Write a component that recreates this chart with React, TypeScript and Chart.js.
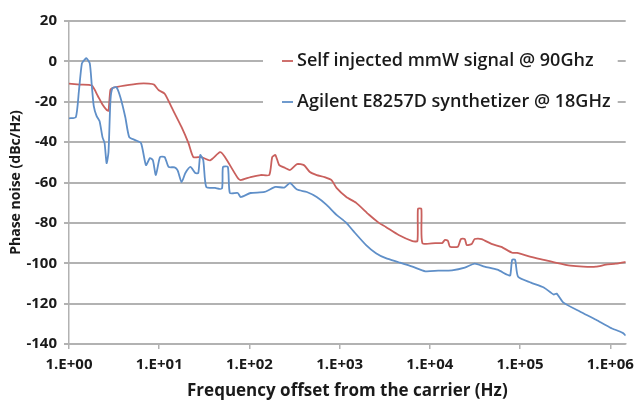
import React, { useEffect, useRef } from 'react';
import { Chart, registerables } from 'chart.js';

Chart.register(...registerables);

// Self injected mmW signal @ 90Ghz
const redFreq = [
  1.0, 1.32, 1.79, 2.08, 2.36, 2.61, 2.74, 2.88, 3.11, 4.1, 5.98, 7.69, 8.73, 9.9, 11.5, 13.7, 17.7, 21.1,
  23.9, 29.3, 36.7, 47.2, 53.5, 74.3, 80.1, 103, 133, 166, 179, 194, 214, 249, 282, 337, 402, 468, 557, 682,
  813, 923, 1186, 1527, 2119, 2725, 3250, 4510, 6415, 7280, 7380, 8050, 8260, 11460, 13670, 14740, 15890,
  16700, 20450, 22070, 24380, 25650, 29100, 31400, 37430, 48160, 61960, 81700, 92700, 131900, 183200,
  254000, 361500, 501500, 695600, 895000, 1151000, 1482000,
];
const redDb = [
  -11, -11.5, -12, -17, -21.5, -24, -24.5, -14, -13, -12, -11, -11, -11.5, -14.3, -16, -22.7, -32.6, -40.5,
  -47.4, -47.4, -49, -45, -47.4, -57.8, -58.8, -57.3, -56.3, -56.3, -47.4, -46.4, -51.4, -52.8, -53.8, -50.9,
  -51.4, -54.8, -56.3, -57.3, -58.8, -62.7, -67.2, -70.1, -76, -80, -82, -86, -89, -89, -73, -73, -90, -90,
  -90, -88.4, -89, -91.8, -91.8, -88, -88, -91, -90.5, -88, -88, -90.4, -91.9, -94.8, -94.9, -96.8, -98.3,
  -99.8, -101.2, -101.7, -101.7, -100.7, -100.2, -99.3,
];

// Agilent E8257D synthetizer @ 18GHz
const blueFreq = [
  1.0, 1.19, 1.29, 1.39, 1.5, 1.57, 1.7, 1.79, 1.88, 2.02, 2.18, 2.35, 2.48, 2.61, 2.74, 2.88, 3.03, 3.35,
  3.71, 4.21, 4.65, 5.41, 6.29, 7.13, 7.89, 8.51, 9.18, 10.2, 11.5, 12.7, 14.8, 16.0, 17.7, 19.5, 22.2, 25.1,
  27.1, 28.5, 30.8, 33.2, 41.6, 49.6, 50.9, 57.7, 60.7, 74.3, 80.1, 103, 147, 194, 243, 282, 337, 433, 557,
  717, 923, 1186, 1416, 1964, 2528, 3250, 4510, 6415, 8910, 12360, 17580, 24380, 31400, 40380, 56000, 72100,
  77800, 81700, 88100, 95100, 131900, 183200, 235600, 254000, 302900, 464500, 695600, 990000, 1374000,
  1482000,
];
const blueDb = [
  -28.2, -27.7, -14.3, -1, 1, 1.5, -1, -12, -22, -27, -29.5, -37.5, -40.5, -50.4, -45, -19.3, -13.3, -12.8,
  -17.8, -27.7, -37.5, -39, -40.5, -51.4, -47.9, -49, -56.3, -47.4, -47.4, -52.3, -52.5, -54, -59.8, -55.3,
  -52.3, -55.3, -55.3, -46.4, -49, -62.2, -62.7, -63, -52.3, -52.3, -65.2, -65.2, -67.2, -65.2, -64.7, -62.2,
  -62.5, -60.3, -63.5, -64.7, -67.2, -71.1, -76, -80, -84, -91, -95, -97.5, -99.5, -101.7, -104, -103.7,
  -103.5, -102.2, -100.2, -101.7, -103.2, -105.7, -106, -98.3, -98.3, -106.7, -109.6, -112, -115.5, -115,
  -119.5, -124, -128, -131.8, -134.5, -135.8,
];

const seriesNames = ['Self injected mmW signal @ 90Ghz', 'Agilent E8257D synthetizer @ 18GHz'];
const seriesColors = ['#C9605D', '#5F8FC8'];

const xTickValues = [1, 10, 100, 1000, 10000, 100000, 1000000];
const xTickLabels = ['1.E+00', '1.E+01', '1.E+02', '1.E+03', '1.E+04', '1.E+05', '1.E+06'];
const yTickValues = [-140, -120, -100, -80, -60, -40, -20, 0, 20];
const xMin = 1;
const xMax = 1482000;
const yMin = -140;
const yMax = 20;

const xTitle = 'Frequency offset from the carrier (Hz)';
const yTitle = 'Phase noise (dBc/Hz)';

const FONT = "'Open Sans', 'DejaVu Sans', sans-serif";
const GRID = '#b2b2b2';

// horizontal gridlines taken from the y scale
const hGrid = {
  id: 'hGrid',
  beforeDatasetsDraw(chart: any) {
    const { ctx, chartArea } = chart;
    const ys = chart.scales.y;
    ctx.save();
    ctx.strokeStyle = GRID;
    ctx.lineWidth = 2;
    yTickValues.forEach((v) => {
      const y = Math.round(ys.getPixelForValue(v));
      ctx.beginPath();
      ctx.moveTo(chartArea.left - 5, y);
      ctx.lineTo(chartArea.right, y);
      ctx.stroke();
    });
    ctx.restore();
  },
};

const insideLegend = {
  id: 'insideLegend',
  afterDatasetsDraw(chart: any) {
    const { ctx, chartArea } = chart;
    const boxL = chartArea.left + 194;
    const boxT = chartArea.top + 8;
    ctx.save();
    ctx.fillStyle = '#ffffff';
    ctx.fillRect(boxL, boxT, chartArea.right - 8 - boxL, 104);
    chart.data.datasets.forEach((ds: any, i: number) => {
      const y = chartArea.top + 40 + i * 41;
      ctx.strokeStyle = ds.borderColor;
      ctx.lineWidth = 1.8;
      ctx.beginPath();
      ctx.moveTo(boxL + 19, y);
      ctx.lineTo(boxL + 30, y);
      ctx.stroke();
      ctx.fillStyle = '#1a1a1a';
      ctx.font = `600 18px ${FONT}`;
      ctx.textBaseline = 'middle';
      ctx.textAlign = 'left';
      ctx.fillText(ds.label, boxL + 34, y);
    });
    ctx.restore();
  },
};

export default function App() {
  const canvasRef = useRef<HTMLCanvasElement | null>(null);

  useEffect(() => {
    const canvas = canvasRef.current;
    if (!canvas) return;
    const chart = new Chart(canvas, {
      type: 'line',
      data: {
        datasets: [
          {
            label: seriesNames[0],
            data: redFreq.map((f, i) => ({ x: f, y: redDb[i] })),
            borderColor: seriesColors[0],
            borderWidth: 1.8,
            pointRadius: 0,
            tension: 0.2,
            fill: false,
            order: 2,
          },
          {
            label: seriesNames[1],
            data: blueFreq.map((f, i) => ({ x: f, y: blueDb[i] })),
            borderColor: seriesColors[1],
            borderWidth: 1.8,
            pointRadius: 0,
            tension: 0.2,
            fill: false,
            order: 1,
          },
        ],
      },
      options: {
        animation: false,
        responsive: true,
        maintainAspectRatio: false,
        layout: { padding: { top: 20, right: 8, left: 0, bottom: 0 } },
        plugins: {
          legend: { display: false },
          tooltip: { enabled: false },
        },
        scales: {
          x: {
            type: 'logarithmic',
            min: xMin,
            max: xMax,
            afterBuildTicks: (scale: any) => {
              scale.ticks = xTickValues.map((v) => ({ value: v }));
            },
            afterFit: (scale: any) => {
              scale.height = 57;
            },
            ticks: {
              autoSkip: false,
              maxRotation: 0,
              padding: 7,
              color: '#1a1a1a',
              font: { family: FONT, size: 15, weight: 'bold' },
              callback: (value: any) => {
                const idx = xTickValues.indexOf(Number(value));
                return idx >= 0 ? xTickLabels[idx] : '';
              },
            },
            grid: {
              drawOnChartArea: false,
              drawTicks: true,
              tickLength: 5,
              color: GRID,
              lineWidth: 1.5,
            },
            border: { color: GRID, width: 1.5 },
            title: {
              display: true,
              text: xTitle,
              color: '#1a1a1a',
              font: { family: FONT, size: 17, weight: 'bold' },
              padding: { top: 0, bottom: 0 },
            },
          },
          y: {
            type: 'linear',
            min: yMin,
            max: yMax,
            afterBuildTicks: (scale: any) => {
              scale.ticks = yTickValues.map((v) => ({ value: v }));
            },
            afterFit: (scale: any) => {
              scale.width = 69;
            },
            ticks: {
              padding: 12,
              color: '#1a1a1a',
              font: { family: FONT, size: 15, weight: 'bold' },
            },
            grid: {
              drawOnChartArea: false,
              drawTicks: false,
            },
            border: { color: GRID, width: 1.5 },
            title: {
              display: true,
              text: yTitle,
              color: '#1a1a1a',
              font: { family: FONT, size: 14, weight: 'bold' },
              padding: { top: 8, bottom: 0 },
            },
          },
        },
      },
      plugins: [hGrid, insideLegend],
    });
    return () => chart.destroy();
  }, []);

  return (
    <div style={{ position: 'fixed', left: 0, top: 0, width: 641, height: 401, background: '#ffffff' }}>
      <canvas ref={canvasRef} />
    </div>
  );
}
